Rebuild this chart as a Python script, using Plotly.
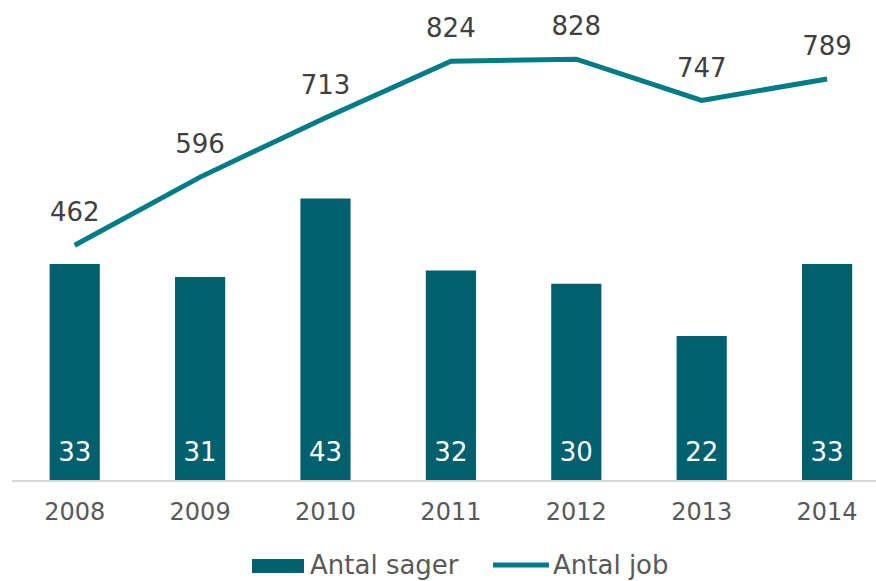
import plotly.graph_objects as go

years = ["2008", "2009", "2010", "2011", "2012", "2013", "2014"]
antal_sager = [33, 31, 43, 32, 30, 22, 33]
antal_job = [462, 596, 713, 824, 828, 747, 789]

BAR_COLOR = "#00606D"
LINE_COLOR = "#007C87"
FONT = "DejaVu Sans"
CLEAR = "rgba(0,0,0,0)"

fig = go.Figure()
fig.add_trace(go.Bar(
    x=years, y=antal_sager, name="Antal sager",
    marker=dict(color=BAR_COLOR, line=dict(width=0)),
    yaxis="y", showlegend=False,
))
# value labels at the base of each bar
fig.add_trace(go.Scatter(
    x=years, y=[0 for _ in antal_sager], mode="markers+text",
    text=[str(v) for v in antal_sager], textposition="top center",
    textfont=dict(family=FONT, size=26, color="#FFFFFF"),
    marker=dict(size=18, color=CLEAR), yaxis="y",
    showlegend=False, hoverinfo="skip", cliponaxis=False,
))
fig.add_trace(go.Scatter(
    x=years, y=antal_job, name="Antal job", mode="lines+markers+text",
    line=dict(color=LINE_COLOR, width=5),
    marker=dict(size=26, color=CLEAR),
    text=[str(v) for v in antal_job], textposition="top center",
    textfont=dict(family=FONT, size=26, color="#404040"),
    yaxis="y2", showlegend=False, cliponaxis=False,
))

# manual legend (wide swatches like the reference)
shapes = [
    dict(type="rect", xref="paper", yref="paper", x0=0.2778, x1=0.3380,
         y0=-0.1938, y1=-0.1646, fillcolor=BAR_COLOR, line=dict(width=0)),
    dict(type="line", xref="paper", yref="paper", x0=0.5567, x1=0.6215,
         y0=-0.1771, y1=-0.1771, line=dict(color=LINE_COLOR, width=5)),
]
annotations = [
    dict(xref="paper", yref="paper", x=0.3430, y=-0.1771, text="Antal sager",
         xanchor="left", yanchor="middle", showarrow=False,
         font=dict(family=FONT, size=26, color="#595959")),
    dict(xref="paper", yref="paper", x=0.6240, y=-0.1771, text="Antal job",
         xanchor="left", yanchor="middle", showarrow=False,
         font=dict(family=FONT, size=26, color="#595959")),
]

fig.update_layout(
    width=876, height=581,
    margin=dict(l=12, r=0, t=0, b=101, autoexpand=False),
    paper_bgcolor="white", plot_bgcolor="white",
    bargap=0.6,
    font=dict(family=FONT, color="#595959"),
    xaxis=dict(
        type="category", range=[-0.5, 6.39],
        showline=True, linecolor="#D9D9D9", linewidth=2,
        showgrid=False, ticks="", tickfont=dict(size=24, color="#595959"),
        ticklabelstandoff=9,
    ),
    yaxis=dict(range=[0, 480 / 6.545], visible=False, showgrid=False),
    yaxis2=dict(range=[0, 480 / 0.5082], visible=False, overlaying="y",
                showgrid=False),
    shapes=shapes,
    annotations=annotations,
    showlegend=False,
)

fig.write_html("out.html",
               config={"displayModeBar": False},
               post_script="document.body.style.margin='0';")
